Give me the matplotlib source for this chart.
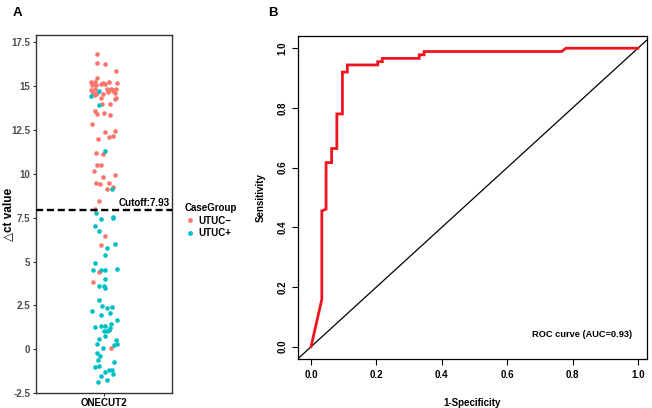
import numpy as np
import matplotlib
matplotlib.use("Agg")
import matplotlib.pyplot as plt
from matplotlib.lines import Line2D

plt.rcParams['font.family'] = ['Liberation Sans', 'DejaVu Sans']
plt.rcParams['font.weight'] = 'bold'

# panel A: delta ct per sample, with horizontal jitter
neg_ct = [16.81, 16.31, 16.24, 15.86, 15.44, 15.22, 15.25, 15.14, 15.22, 15.14,
          15.03, 15.03, 15.10, 15.10, 14.76, 14.80, 14.80, 14.84, 14.76, 14.84,
          14.57, 14.57, 14.53, 14.65, 14.69, 14.57, 14.34, 14.27, 14.46, 14.31,
          13.97, 13.97, 13.55, 13.40, 13.47, 13.36, 12.83, 12.38, 12.41, 12.11,
          12.15, 12.00, 11.16, 11.13, 10.48, 10.52, 10.18, 9.95, 9.80, 9.46,
          9.42, 9.50, 9.27, 9.16, 8.44, 7.98, 6.43, 5.97, 4.38, 3.85, 0.06]
neg_jit = [-0.062, -0.056, 0.009, 0.109, -0.062, -0.109, -0.080, -0.009, 0.044, 0.120,
           -0.103, -0.068, -0.027, 0.009, -0.115, -0.080, 0.032, 0.067, 0.091, 0.109,
           -0.092, -0.056, -0.009, 0.038, 0.079, 0.103, 0.109, 0.097, -0.074, -0.021,
           -0.015, 0.056, -0.074, -0.062, 0.003, 0.056, -0.103, 0.009, 0.103, 0.044,
           0.085, -0.050, -0.068, -0.009, -0.056, -0.021, -0.086, 0.097, -0.003, -0.068,
           -0.033, 0.050, 0.079, 0.026, -0.044, -0.080, 0.009, -0.027, -0.044, -0.092, 0.062]
pos_ct = [14.72, 14.42, 13.89, 11.31, 9.12, 7.75, 7.41, 7.56, 7.49, 7.00,
          6.73, 6.01, 5.78, 5.37, 4.91, 4.53, 4.50, 4.53, 4.57, 4.00,
          3.62, 3.62, 3.51, 2.83, 2.49, 2.37, 2.41, 2.19, 2.07, 1.96,
          1.69, 1.43, 1.28, 1.31, 1.35, 1.12, 1.24, 1.05, 1.05, 0.75,
          0.59, 0.56, 0.33, 0.33, 0.25, 0.06, -0.20, -0.39, -0.58, -0.73,
          -1.00, -0.92, -1.26, -1.19, -1.15, -1.38, -1.53, -1.72, -1.83]
pos_jit = [-0.039, -0.115, -0.039, 0.014, 0.073, -0.068, -0.027, 0.079, 0.085, -0.080,
           -0.039, 0.097, 0.026, 0.014, -0.074, -0.097, -0.027, 0.009, 0.114, 0.009,
           -0.039, 0.003, 0.014, -0.044, -0.015, 0.032, 0.073, -0.103, 0.056, -0.027,
           0.114, 0.067, -0.074, -0.027, 0.009, 0.044, 0.056, 0.003, 0.026, 0.014,
           -0.039, 0.109, -0.062, 0.120, 0.091, -0.009, -0.062, -0.033, -0.050, 0.091,
           -0.080, -0.044, 0.014, 0.050, 0.073, 0.079, -0.027, 0.026, -0.050]
cutoff = 7.93

# panel B: ROC curve
fpr = [0, 0.033, 0.033, 0.046, 0.046, 0.063, 0.063, 0.079, 0.079, 0.096, 0.096,
       0.111, 0.111, 0.204, 0.204, 0.218, 0.218, 0.331, 0.331, 0.346, 0.346,
       0.767, 0.780, 1.0]
tpr = [0, 0.159, 0.455, 0.461, 0.617, 0.617, 0.664, 0.664, 0.780, 0.780, 0.920,
       0.920, 0.944, 0.944, 0.955, 0.955, 0.966, 0.966, 0.978, 0.978, 0.989,
       0.989, 1.0, 1.0]
auc = 0.93

red = '#F8766D'
cyan = '#00BFC4'

fig = plt.figure(figsize=(6.52, 4.08), dpi=100)

# ---- A ----
ax1 = fig.add_axes([0.0548, 0.036, 0.2085, 0.8782])
ax1.scatter(1 + np.array(neg_jit), neg_ct, s=11, color=red, linewidths=0, zorder=3)
ax1.scatter(1 + np.array(pos_jit), pos_ct, s=11, color=cyan, linewidths=0, zorder=3)
ax1.axhline(cutoff, color='black', lw=1.7, dashes=(3, 1.6), zorder=4)
ax1.annotate('Cutoff:7.93', xy=(1.585, cutoff), xytext=(0, 1.5), textcoords='offset points',
             ha='right', va='bottom', fontsize=7, fontweight='bold')
ax1.set_xlim(0.4, 1.6)
ax1.set_ylim(-2.5, 17.9)
ax1.set_xticks([1])
ax1.set_xticklabels(['ONECUT2'])
ax1.set_yticks([-2.5, 0, 2.5, 5, 7.5, 10, 12.5, 15, 17.5])
ax1.set_yticklabels(['-2.5', '0', '2.5', '5', '7.5', '10', '12.5', '15', '17.5'])
ax1.tick_params(axis='y', labelsize=7, labelcolor='#4D4D4D', length=2.5, width=0.8,
                color='#333333', pad=1.5)
ax1.tick_params(axis='x', labelsize=7, labelcolor='black', length=2.5, width=0.8,
                color='#333333', pad=1)
for lab in ax1.get_xticklabels() + ax1.get_yticklabels():
    lab.set_fontweight('bold')
for sp in ax1.spines.values():
    sp.set_linewidth(1.0)
    sp.set_color('#333333')
ax1.set_ylabel('△ct value', fontsize=8.5, fontweight='bold')
ax1.yaxis.set_label_coords(-0.16, 0.5)

handles = [Line2D([], [], ls='none', marker='o', ms=3.5, color=red, mec='none'),
           Line2D([], [], ls='none', marker='o', ms=3.5, color=cyan, mec='none')]
leg = fig.legend(handles, ['UTUC−', 'UTUC+'], title='CaseGroup', loc='upper left',
                 bbox_to_anchor=(0.272, 0.52), frameon=False, fontsize=7,
                 title_fontproperties={'weight': 'bold', 'size': 7},
                 handlelength=1.2, handletextpad=0.3, labelspacing=0.3,
                 borderpad=0.2)
leg._legend_box.align = 'left'
for t in leg.get_texts():
    t.set_fontweight('bold')

fig.text(0.019, 0.982, 'A', fontsize=9.5, fontweight='bold', va='top')

# ---- B ----
ax2 = fig.add_axes([0.4575, 0.1194, 0.5344, 0.7924])
ax2.plot(fpr, tpr, color='#F0141E', lw=2, zorder=3, solid_joinstyle='miter')
ax2.axline((0, 0), slope=1, color='black', lw=0.9)
ax2.set_xlim(-0.039, 1.027)
ax2.set_ylim(-0.042, 1.041)
ticks = [0, 0.2, 0.4, 0.6, 0.8, 1.0]
ax2.set_xticks(ticks)
ax2.set_yticks(ticks)
ax2.set_xticklabels(['%.1f' % t for t in ticks])
ax2.set_yticklabels(['%.1f' % t for t in ticks], rotation=90, va='center')
ax2.tick_params(labelsize=7, length=4, width=0.8, pad=4)
for lab in ax2.get_xticklabels() + ax2.get_yticklabels():
    lab.set_fontweight('bold')
for sp in ax2.spines.values():
    sp.set_linewidth(0.9)
ax2.set_xlabel('1-Specificity', fontsize=7, fontweight='bold', labelpad=13)
ax2.set_ylabel('Sensitivity', fontsize=7, fontweight='bold', labelpad=8)
ax2.text(0.83, 0.04, 'ROC curve (AUC=%.2f)' % auc, ha='center', va='center',
         fontsize=6.7, fontweight='bold')

fig.text(0.411, 0.982, 'B', fontsize=9.5, fontweight='bold', va='top')

fig.savefig('out.png', dpi=100)
